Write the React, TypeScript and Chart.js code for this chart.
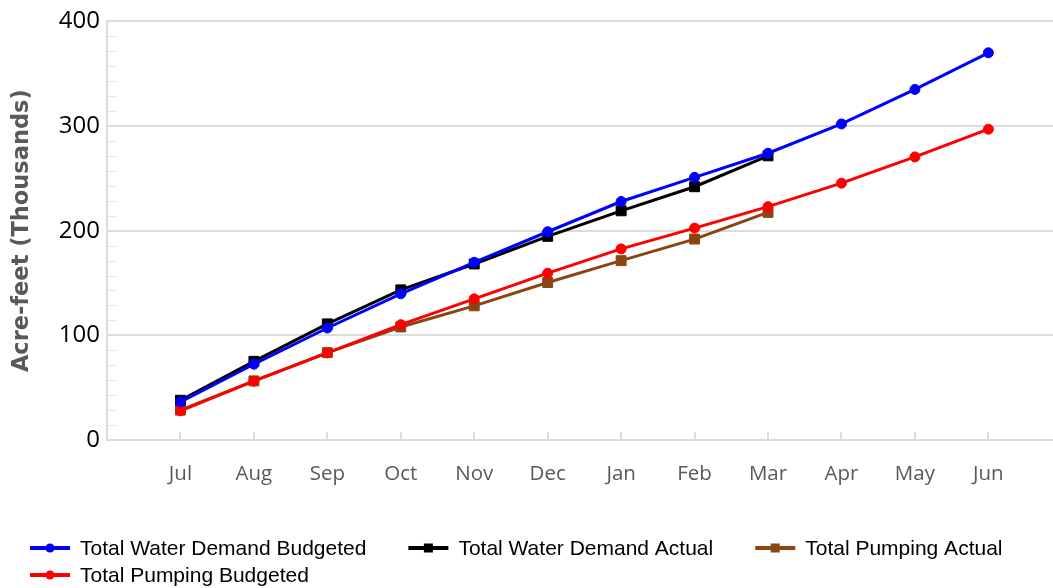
import React, { useEffect, useRef } from "react";
import { Chart, registerables } from "chart.js";

Chart.register(...registerables);

const months = ["Jul", "Aug", "Sep", "Oct", "Nov", "Dec", "Jan", "Feb", "Mar", "Apr", "May", "Jun"];
const demandBudgeted = [36.5, 72.4, 107, 139.7, 169.8, 199, 227.9, 251, 274, 302, 335, 370];
const demandActual = [38, 75.2, 111, 143.5, 168.2, 194.6, 219, 242, 271.5];
const pumpingBudgeted = [27.9, 56.2, 83.2, 110.2, 134.9, 159.4, 182.6, 202.5, 223, 245.4, 270.5, 297];
const pumpingActual = [28.5, 56.5, 83.5, 108, 128.2, 150.5, 171.4, 192, 217.5];
const yTicks = [0, 100, 200, 300, 400];
const yMinorDivisions = 7;

const toPoints = (arr: number[]) => arr.map((v, i) => ({ x: i, y: v }));

const minorTicksPlugin = {
  id: "minorTicks",
  beforeDatasetsDraw(chart: any) {
    const { ctx, chartArea, scales } = chart;
    const ys = scales.y;
    const xs = scales.x;
    ctx.save();
    ctx.strokeStyle = "#e6e6e6";
    ctx.lineWidth = 1;
    for (let k = 0; k < yTicks.length - 1; k++) {
      const a = yTicks[k];
      const b = yTicks[k + 1];
      for (let j = 1; j < yMinorDivisions; j++) {
        const v = a + ((b - a) * j) / yMinorDivisions;
        const py = Math.round(ys.getPixelForValue(v)) + 0.5;
        ctx.beginPath();
        ctx.moveTo(chartArea.left + 1, py);
        ctx.lineTo(chartArea.left + 10, py);
        ctx.stroke();
      }
    }
    ctx.strokeStyle = "#dcdcdc";
    ctx.lineWidth = 2;
    months.forEach((_, i) => {
      const px = Math.round(xs.getPixelForValue(i));
      ctx.beginPath();
      ctx.moveTo(px, chartArea.bottom - 8);
      ctx.lineTo(px, chartArea.bottom);
      ctx.stroke();
    });
    ctx.restore();
  },
};

const legendPlugin = {
  id: "customLegend",
  afterDraw(chart: any) {
    const { ctx } = chart;
    const order = [0, 2, 3, 1];
    ctx.save();
    ctx.font = '21px "Liberation Sans", Arial, sans-serif';
    ctx.textBaseline = "middle";
    ctx.textAlign = "left";
    const startX = 30;
    let x = startX;
    let y = 548;
    for (const idx of order) {
      const ds = chart.data.datasets[idx];
      const tw = ctx.measureText(ds.label).width;
      const w = 50 + tw;
      if (x > startX && x + w > chart.width - 10) {
        x = startX;
        y += 27;
      }
      ctx.strokeStyle = ds.borderColor;
      ctx.lineWidth = 4;
      ctx.beginPath();
      ctx.moveTo(x, y);
      ctx.lineTo(x + 40, y);
      ctx.stroke();
      ctx.fillStyle = ds.borderColor;
      if (ds.pointStyle === "circle") {
        ctx.beginPath();
        ctx.arc(x + 20, y, 4.5, 0, Math.PI * 2);
        ctx.fill();
      } else {
        ctx.fillRect(x + 20 - 4.5, y - 4.5, 9, 9);
      }
      ctx.fillStyle = "#000";
      ctx.fillText(ds.label, x + 50, y + 1);
      x += w + 42;
    }
    ctx.restore();
  },
};

export default function App() {
  const canvasRef = useRef<HTMLCanvasElement | null>(null);

  useEffect(() => {
    if (!canvasRef.current) return;
    const mk = (label: string, data: number[], color: string, style: string, radius: number) => ({
      label,
      data: toPoints(data),
      borderColor: color,
      backgroundColor: color,
      pointBackgroundColor: color,
      pointBorderColor: color,
      pointStyle: style,
      pointRadius: radius,
      pointBorderWidth: 1,
      borderWidth: 3,
      tension: 0,
      fill: false,
    });
    const chart = new Chart(canvasRef.current, {
      type: "line",
      data: {
        datasets: [
          mk("Total Water Demand Budgeted", demandBudgeted, "#0000ff", "circle", 5),
          mk("Total Pumping Budgeted", pumpingBudgeted, "#ff0000", "circle", 5),
          mk("Total Water Demand Actual", demandActual, "#000000", "rect", 7),
          mk("Total Pumping Actual", pumpingActual, "#8b4513", "rect", 7),
        ] as any,
      },
      options: {
        responsive: false,
        devicePixelRatio: 1,
        animation: false,
        layout: { autoPadding: false, padding: { top: 20, left: 0, right: 0, bottom: 88 } },
        plugins: {
          legend: { display: false },
          tooltip: { enabled: false },
        },
        scales: {
          x: {
            type: "linear",
            min: -1,
            max: 11.88,
            afterBuildTicks: (s: any) => {
              s.ticks = months.map((_, i) => ({ value: i }));
            },
            afterFit: (s: any) => {
              s.height = 60;
              s.paddingLeft = 0;
              s.paddingRight = 0;
            },
            grid: { display: false, drawTicks: false },
            border: { color: "#dcdcdc", width: 2 },
            ticks: {
              color: "#595959",
              padding: 22,
              maxRotation: 0,
              autoSkip: false,
              font: { family: '"Open Sans", "Noto Sans", sans-serif', size: 20.5 },
              callback: (v: any) => months[v] ?? "",
            },
          },
          y: {
            min: 0,
            max: 400,
            afterBuildTicks: (s: any) => {
              s.ticks = yTicks.map((v) => ({ value: v }));
            },
            afterFit: (s: any) => {
              s.width = 107;
            },
            grid: { color: "#dcdcdc", lineWidth: 2, drawTicks: false },
            border: { color: "#dcdcdc", width: 2 },
            ticks: {
              color: "#000000",
              padding: 7,
              font: { family: '"Open Sans", "Noto Sans", sans-serif', size: 24 },
            },
            title: {
              display: true,
              text: "Acre-feet (Thousands)",
              color: "#595959",
              padding: { top: 9, bottom: 0 },
              font: { family: '"DejaVu Sans", sans-serif', size: 22.5, weight: "bold" },
            },
          },
        },
      } as any,
      plugins: [minorTicksPlugin, legendPlugin],
    });
    return () => chart.destroy();
  }, []);

  return (
    <div style={{ position: "fixed", left: 0, top: 0, width: 1053, height: 588, background: "#fff" }}>
      <canvas ref={canvasRef} width={1053} height={588} />
    </div>
  );
}
